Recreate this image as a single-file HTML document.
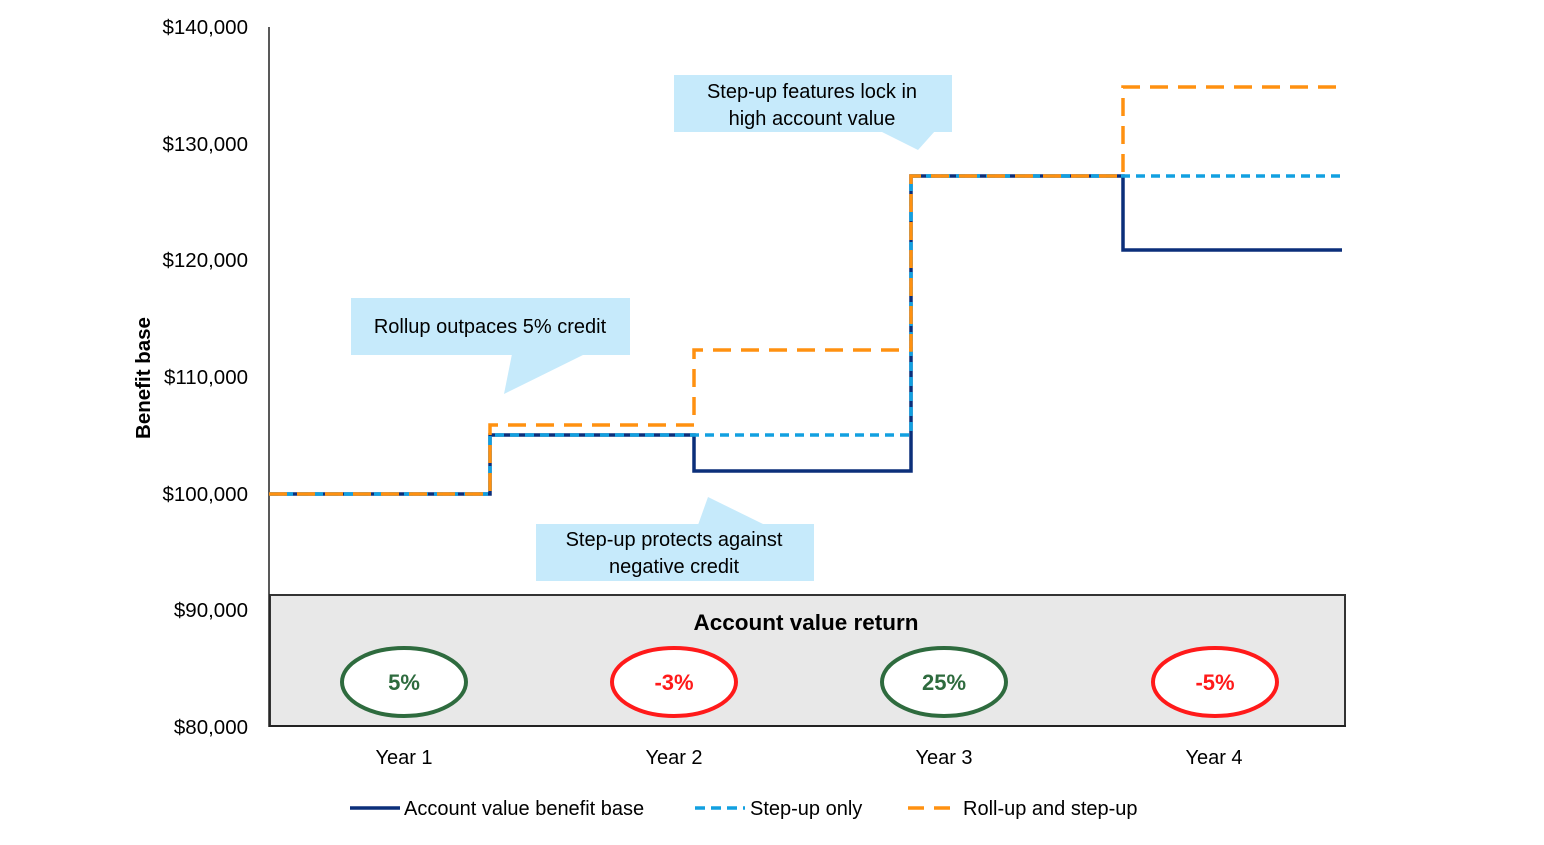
<!DOCTYPE html>
<html><head><meta charset="utf-8"><style>
body{margin:0;background:#fff}
svg text{font-family:"Liberation Sans",sans-serif}
</style></head><body>
<svg width="1544" height="840" viewBox="0 0 1544 840" xmlns="http://www.w3.org/2000/svg">
<rect width="1544" height="840" fill="#fff"/>
<g font-size="20.5" fill="#000" text-anchor="end">
<text x="248" y="34">$140,000</text>
<text x="248" y="151">$130,000</text>
<text x="248" y="267">$120,000</text>
<text x="248" y="384">$110,000</text>
<text x="248" y="501">$100,000</text>
<text x="248" y="617">$90,000</text>
<text x="248" y="734">$80,000</text>
</g>
<text transform="translate(150,378) rotate(-90)" font-size="20.5" font-weight="bold" text-anchor="middle">Benefit base</text>
<rect x="270" y="595" width="1075" height="131" fill="#e8e8e8" stroke="#333" stroke-width="2"/>
<text x="806" y="630" font-size="22.5" font-weight="bold" text-anchor="middle">Account value return</text>
<g stroke-width="4" fill="#fff">
<ellipse cx="404" cy="682" rx="62" ry="34" stroke="#2e6b3e"/>
<ellipse cx="674" cy="682" rx="62" ry="34" stroke="#ff1a1a"/>
<ellipse cx="944" cy="682" rx="62" ry="34" stroke="#2e6b3e"/>
<ellipse cx="1215" cy="682" rx="62" ry="34" stroke="#ff1a1a"/>
</g>
<g font-size="22" font-weight="bold" text-anchor="middle">
<text x="404" y="690" fill="#2e6b3e">5%</text>
<text x="674" y="690" fill="#ff1a1a">-3%</text>
<text x="944" y="690" fill="#2e6b3e">25%</text>
<text x="1215" y="690" fill="#ff1a1a">-5%</text>
</g>
<line x1="269" y1="27" x2="269" y2="727" stroke="#222" stroke-width="1.5"/>
<line x1="269" y1="726" x2="1346" y2="726" stroke="#222" stroke-width="2"/>
<g font-size="20" text-anchor="middle">
<text x="404" y="764">Year 1</text>
<text x="674" y="764">Year 2</text>
<text x="944" y="764">Year 3</text>
<text x="1214" y="764">Year 4</text>
</g>
<g fill="#c6eafb">
<rect x="674" y="75" width="278" height="57"/>
<polygon points="880,131 918,150 935,131"/>
<rect x="351" y="298" width="279" height="57"/>
<polygon points="512,354 504,394 585,354"/>
<rect x="536" y="524" width="278" height="57"/>
<polygon points="698,525 708,497 765,525"/>
</g>
<g font-size="20" text-anchor="middle">
<text x="812" y="98">Step-up features lock in</text>
<text x="812" y="125">high account value</text>
<text x="490" y="333">Rollup outpaces 5% credit</text>
<text x="674" y="546">Step-up protects against</text>
<text x="674" y="573">negative credit</text>
</g>
<polyline points="269,494 490,494 490,435 694,435 694,471 911,471 911,176 1123,176 1123,250 1342,250" fill="none" stroke="#0b2f7a" stroke-width="3.5"/>
<polyline points="269,494 490,494 490,435 911,435 911,176 1342,176" fill="none" stroke="#12a0e0" stroke-width="3.5" stroke-dasharray="9,6"/>
<polyline points="269,494 490,494 490,425 694,425 694,350 911,350 911,176 1123,176 1123,87 1342,87" fill="none" stroke="#ff9110" stroke-width="3.5" stroke-dasharray="18,10"/>
<line x1="350" y1="808" x2="400" y2="808" stroke="#0b2f7a" stroke-width="3.5"/>
<text x="404" y="815" font-size="20">Account value benefit base</text>
<line x1="695" y1="808" x2="745" y2="808" stroke="#12a0e0" stroke-width="3.5" stroke-dasharray="10,6"/>
<text x="750" y="815" font-size="20">Step-up only</text>
<line x1="908" y1="808" x2="958" y2="808" stroke="#ff9110" stroke-width="3.5" stroke-dasharray="16,10"/>
<text x="963" y="815" font-size="20">Roll-up and step-up</text>
</svg>
</body></html>
